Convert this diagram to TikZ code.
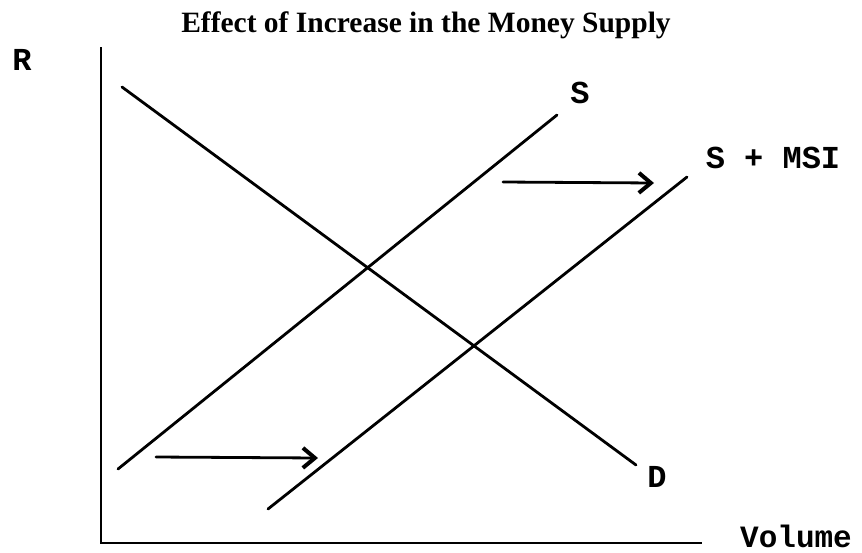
\documentclass[tikz,border=0pt]{standalone}
\usepackage{fontspec}
\newfontfamily\titlefont{Liberation Serif}
\newfontfamily\labelfont{Liberation Mono}
\usetikzlibrary{arrows.meta}
\tikzset{
  curve/.style={line width=2.8pt,line cap=round},
  axisline/.style={line width=2.4pt},
  shiftarrow/.style={line width=2.8pt,line cap=round,-{Straight Barb[length=12pt,width=20pt,line width=4pt]}},
  curvelabel/.style={font=\labelfont\bfseries\fontsize{32}{34}\selectfont,inner sep=0pt}
}
\begin{document}
\begin{tikzpicture}[x=1pt,y=-1pt]
\useasboundingbox (0,0) rectangle (862,552);
\node[font=\titlefont\bfseries\fontsize{29.5}{32}\selectfont,anchor=base,inner sep=0pt] (title) at (426,32) {Effect of Increase in the Money Supply};
\coordinate (origin) at (101,543);
\coordinate (ytop) at (101,47);
\coordinate (xend) at (702,543);
\node[curvelabel] (rlab) at (22,60) {R};
\node[curvelabel,anchor=base,font=\labelfont\bfseries\fontsize{31}{33}\selectfont] (vollab) at (796,547) {Volume};
\draw[axisline] (ytop) -- (origin) -- (xend);
\coordinate (dtop) at (122,87);
\coordinate (dbot) at (636,465);
\coordinate (sbot) at (118,469);
\coordinate (stop) at (557,115);
\coordinate (msibot) at (268,509);
\coordinate (msitop) at (687,177);
\draw[curve] (dtop) -- (dbot);
\draw[curve] (sbot) -- (stop);
\draw[curve] (msibot) -- (msitop);
\node[curvelabel] (dlab) at (657,477) {D};
\node[curvelabel] (slab) at (580,93) {S};
\node[curvelabel] (msilab) at (773,158) {S + MSI};
\coordinate (upfrom) at (503,182);
\coordinate (upto) at (654,183);
\coordinate (lowfrom) at (156,457);
\coordinate (lowto) at (318,458);
\draw[shiftarrow] (upfrom) -- (upto);
\draw[shiftarrow] (lowfrom) -- (lowto);
\end{tikzpicture}
\end{document}
